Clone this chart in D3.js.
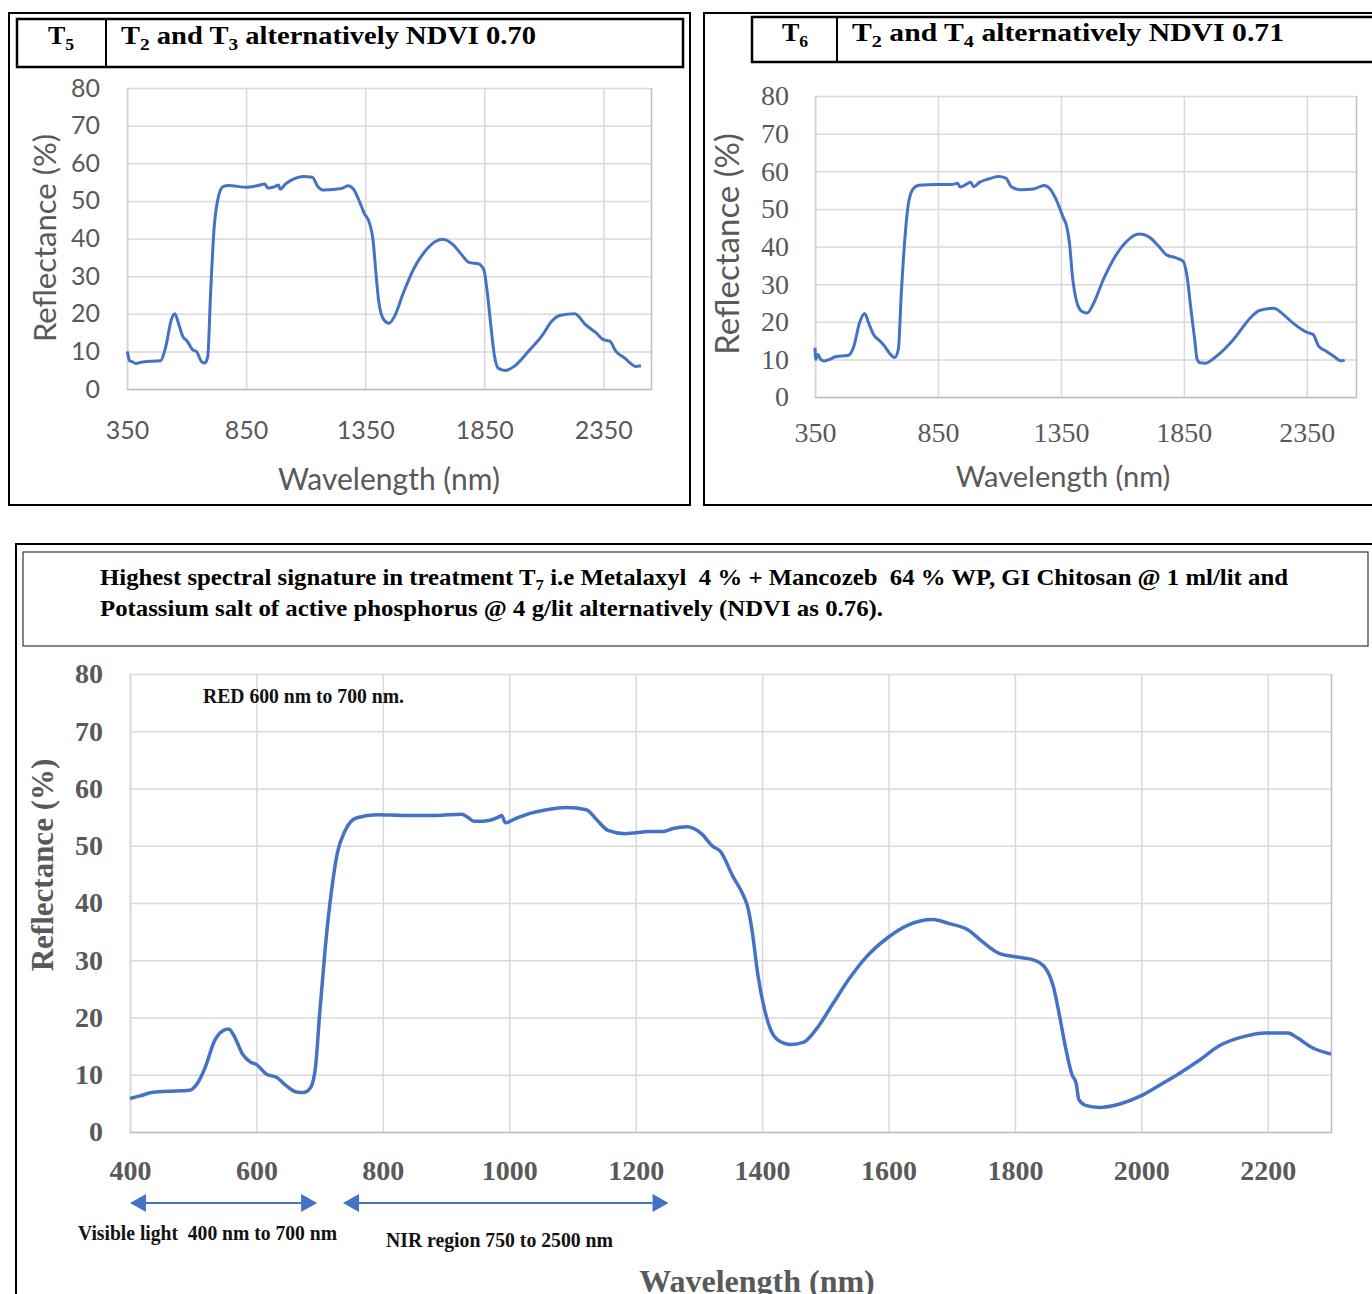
<!DOCTYPE html>
<html>
<head>
<meta charset="utf-8">
<script src="https://cdn.jsdelivr.net/npm/d3@7"></script>
<style>
  body { margin: 0; background: #fff; }
  svg { display: block; }
  text { white-space: pre; }
</style>
</head>
<body>
<svg id="chart" width="1372" height="1294"></svg>
<script>
// Reflectance spectra (wavelength nm, reflectance %)
const t5Wavelength = [350,353,360,371,386,416,491,513,536,551,566,584,603,626,641,663,678,689,701,716,731,753,776,851,896,929,941,971,986,993,1016,1053,1091,1128,1151,1173,1226,1256,1278,1301,1323,1346,1368,1383,1394,1406,1428,1450,1473,1510,1555,1600,1645,1675,1720,1750,1788,1825,1848,1863,1878,1893,1908,1938,1975,2035,2095,2133,2170,2230,2275,2320,2350,2377,2403,2440,2470,2485,2508];
const t5Reflectance = [10,9.5,7.5,7.3,6.8,7.2,7.5,11.3,18.4,20,17.5,14,12.7,10.4,10,7.3,6.9,8.7,25.5,43,50.3,53.8,54.1,53.6,54,54.5,53.4,53.8,54.2,53.1,54.5,55.9,56.5,56.3,53.8,52.9,53.1,53.4,54,53.1,50.3,46.7,44.1,39.6,31.7,23.7,18.4,17.5,19.3,25.5,32.1,36.5,39.2,39.8,38.3,36.1,33.6,33.3,31.7,25.5,16.6,8.7,5.6,4.9,6,10,14.4,18,19.6,20,17.1,14.9,13.1,12.7,10,8.2,6.5,6,6.2];

const t6Wavelength = [350,353,362,373,388,410,433,486,508,531,552,568,588,614,633,651,674,689,701,714,730,749,772,847,907,930,940,967,983,995,1020,1058,1095,1126,1148,1186,1239,1281,1306,1329,1359,1374,1385,1397,1412,1434,1457,1480,1525,1570,1615,1668,1705,1743,1781,1818,1848,1863,1879,1894,1904,1916,1939,1976,2052,2120,2157,2217,2248,2293,2353,2376,2398,2428,2458,2489,2504];
const t6Reflectance = [13.1,10,11.3,10,9.6,10,10.7,11.1,13.5,19.7,22.2,19.7,16.6,14.9,13.5,11.8,10.5,12.7,27.6,40.8,51.4,55.3,56.3,56.5,56.5,56.8,55.8,56.6,57.1,55.9,57.1,58,58.6,58.2,55.9,55.1,55.3,56.2,55.3,52.7,47.8,45.2,40.8,32,25.9,22.8,22.3,24.5,31.6,37.3,41.2,43.3,42.7,40.4,37.7,37,36,32,23.2,15.3,10,9.1,9,10.5,15.3,21,23,23.6,22.3,19.7,17.1,16.6,13.5,12.2,10.9,9.6,9.8];

const t7Wavelength = [400,416,434,459,494,506,519,534,547,556,566,578,591,600,616,631,647,663,675,686,694,700,709,719,728,741,759,791,834,884,925,934,944,959,981,988,994,1009,1034,1059,1091,1122,1138,1156,1184,1222,1244,1259,1281,1303,1322,1334,1354,1370,1377,1384,1393,1403,1413,1426,1446,1466,1486,1512,1538,1565,1597,1630,1670,1696,1726,1749,1775,1801,1828,1847,1861,1870,1880,1890,1897,1901,1913,1933,1966,1999,2032,2058,2091,2124,2163,2196,2232,2246,2269,2300];
const t7Reflectance = [5.85,6.3,6.9,7.1,7.3,8.4,11.3,16,17.7,18,16.5,13.6,12.2,11.8,10.1,9.6,8.1,7,6.9,7.8,11.9,20.6,32.3,42.3,48.7,52.8,54.9,55.4,55.3,55.3,55.5,55,54.3,54.3,54.9,55.3,54,54.7,55.7,56.3,56.7,56.3,54.6,52.7,52.1,52.5,52.5,53,53.3,52.2,49.9,49,44.6,41.4,39.4,35.3,27.7,21.8,18,16,15.3,15.7,18,22.4,26.8,30.6,33.8,36.1,37.1,36.4,35.3,33.2,31.2,30.6,30.1,28.8,25.3,20.6,14.8,10.1,8.4,5.7,4.6,4.3,4.9,6.3,8.4,10.1,12.5,15.1,16.7,17.3,17.3,16.5,14.8,13.6];

// Axis ticks
const yTicks = [0, 10, 20, 30, 40, 50, 60, 70, 80];
const topXTicks = [350, 850, 1350, 1850, 2350];
const bottomXTicks = [400, 600, 800, 1000, 1200, 1400, 1600, 1800, 2000, 2200];

// Region arrows under the big chart
const visibleRange = [400, 696];
const nirRange = [737, 1252];

const svg = d3.select('#chart');
const blue = '#4472C4';
const grey = '#595959';

// ---- boxes and headers ----
function rect(x, y, w, h, sw, color) {
  svg.append('rect').attr('x', x).attr('y', y).attr('width', w).attr('height', h)
    .attr('fill', 'none').attr('stroke', color || '#000').attr('stroke-width', sw);
}
rect(9, 13, 681, 492, 2);
rect(17, 19, 666, 48, 2.5);
svg.append('line').attr('x1', 106).attr('x2', 106).attr('y1', 19).attr('y2', 67).attr('stroke', '#000').attr('stroke-width', 2);

rect(704, 13, 700, 492, 2);
rect(752, 17, 660, 45, 2.5);
svg.append('line').attr('x1', 837).attr('x2', 837).attr('y1', 17).attr('y2', 62).attr('stroke', '#000').attr('stroke-width', 2);

rect(16, 544, 1400, 800, 2);
rect(23, 552, 1345, 94, 1.2, '#333');

// parts: plain strings, or {s: '2'} for a subscript
function header(x, y, parts, anchor, size) {
  const t = svg.append('text').attr('x', x).attr('y', y)
    .attr('font-family', 'Liberation Serif, serif').attr('font-weight', 'bold')
    .attr('font-size', size).attr('text-anchor', anchor || 'start').attr('fill', '#000');
  let shifted = false;
  parts.forEach(p => {
    if (typeof p === 'string') {
      t.append('tspan').attr('dy', shifted ? -size * 0.22 : null).text(p);
      shifted = false;
    } else {
      t.append('tspan').attr('font-size', size * 0.68).attr('dy', size * 0.22).text(p.s);
      shifted = true;
    }
  });
  return t;
}
header(61, 44, ['T', {s: '5'}], 'middle', 26);
header(121, 44, ['T', {s: '2'}, ' and T', {s: '3'}, ' alternatively NDVI 0.70'], 'start', 26)
  .attr('textLength', 415).attr('lengthAdjust', 'spacingAndGlyphs');
header(795, 41, ['T', {s: '6'}], 'middle', 26);
header(852, 41, ['T', {s: '2'}, ' and T', {s: '4'}, ' alternatively NDVI 0.71'], 'start', 26)
  .attr('textLength', 432).attr('lengthAdjust', 'spacingAndGlyphs');

header(100, 585, ['Highest spectral signature in treatment T', {s: '7'}, ' i.e Metalaxyl  4 % + Mancozeb  64 % WP, GI Chitosan @ 1 ml/lit and'], 'start', 23)
  .attr('textLength', 1188).attr('lengthAdjust', 'spacingAndGlyphs');
header(100, 616, ['Potassium salt of active phosphorus @ 4 g/lit alternatively (NDVI as 0.76).'], 'start', 23)
  .attr('textLength', 783).attr('lengthAdjust', 'spacingAndGlyphs');

// ---- chart panels ----
function drawPanel(o) {
  const x = d3.scaleLinear().domain(o.xDomain).range([o.left, o.right]);
  const y = d3.scaleLinear().domain([0, 80]).range([o.bottom, o.top]);
  const g = svg.append('g');

  const ya = g.append('g').attr('transform', `translate(${o.left},0)`)
    .call(d3.axisLeft(y).tickValues(yTicks).tickSize(-(o.right - o.left)));
  ya.select('.domain').remove();
  ya.selectAll('line').attr('stroke', '#d9d9d9').attr('stroke-width', 1.5);
  ya.attr('font-family', o.tickFont).attr('font-size', o.tickSize).attr('font-weight', o.tickWeight);
  ya.selectAll('text').attr('x', o.yLabelRight - o.left).attr('fill', grey);

  const xa = g.append('g').attr('transform', `translate(0,${o.bottom})`)
    .call(d3.axisBottom(x).tickValues(o.xTicks).tickFormat(d3.format('d')).tickSize(-(o.bottom - o.top)));
  xa.select('.domain').attr('stroke', '#bfbfbf').attr('stroke-width', 1.5);
  xa.selectAll('line').attr('stroke', '#d9d9d9').attr('stroke-width', 1.5);
  xa.attr('font-family', o.tickFont).attr('font-size', o.tickSize).attr('font-weight', o.tickWeight);
  xa.selectAll('text').attr('y', o.xLabelY - o.bottom).attr('dy', '0.35em').attr('fill', grey);

  const line = d3.line().x(d => x(d[0])).y(d => y(d[1])).curve(d3.curveMonotoneX);
  g.append('path').datum(d3.zip(o.wl, o.refl))
    .attr('d', line).attr('fill', 'none').attr('stroke', blue)
    .attr('stroke-width', o.lineWidth).attr('stroke-linejoin', 'round');

  g.append('text').attr('x', o.xTitle[0]).attr('y', o.xTitle[1]).attr('text-anchor', 'middle')
    .attr('font-family', o.titleFont).attr('font-size', o.xTitleSize).attr('font-weight', o.titleWeight)
    .attr('fill', grey).text('Wavelength (nm)');
  g.append('text').attr('transform', `translate(${o.yTitle[0]},${o.yTitle[1]}) rotate(-90)`)
    .attr('text-anchor', 'middle').attr('dy', '0.35em')
    .attr('font-family', o.titleFont).attr('font-size', o.yTitleSize).attr('font-weight', o.titleWeight)
    .attr('fill', grey).text('Reflectance (%)');
  return x;
}

drawPanel({
  left: 127, right: 651, top: 88, bottom: 389, xDomain: [350, 2550], xTicks: topXTicks,
  wl: t5Wavelength, refl: t5Reflectance, lineWidth: 3,
  tickFont: 'Lato, sans-serif', tickSize: 25, tickWeight: 'normal', yLabelRight: 100, xLabelY: 430,
  titleFont: 'Lato, sans-serif', xTitleSize: 30, yTitleSize: 31, titleWeight: 'normal',
  xTitle: [389, 490], yTitle: [45, 238]
});

drawPanel({
  left: 815, right: 1356, top: 96, bottom: 397, xDomain: [350, 2550], xTicks: topXTicks,
  wl: t6Wavelength, refl: t6Reflectance, lineWidth: 3,
  tickFont: 'Liberation Serif, serif', tickSize: 28, tickWeight: 'normal', yLabelRight: 789, xLabelY: 432,
  titleFont: 'Lato, sans-serif', xTitleSize: 29, yTitleSize: 33, titleWeight: 'normal',
  xTitle: [1063, 487], yTitle: [727, 244]
});

const xBig = drawPanel({
  left: 130, right: 1331, top: 674, bottom: 1132, xDomain: [400, 2300], xTicks: bottomXTicks,
  wl: t7Wavelength, refl: t7Reflectance, lineWidth: 3.5,
  tickFont: 'Liberation Serif, serif', tickSize: 28, tickWeight: 'bold', yLabelRight: 103, xLabelY: 1170,
  titleFont: 'Liberation Serif, serif', xTitleSize: 32, yTitleSize: 31, titleWeight: 'bold',
  xTitle: [757, 1292], yTitle: [42, 865]
});

// ---- annotations on the big chart ----
function note(x, y, txt, len) {
  svg.append('text').attr('x', x).attr('y', y)
    .attr('font-family', 'Liberation Serif, serif').attr('font-weight', 'bold').attr('font-size', 20)
    .attr('fill', '#111').attr('textLength', len).attr('lengthAdjust', 'spacingAndGlyphs').text(txt);
}
note(203, 703, 'RED 600 nm to 700 nm.', 201);
note(78, 1240, 'Visible light  400 nm to 700 nm', 259);
note(386, 1247, 'NIR region 750 to 2500 nm', 227);

function arrow(range, yPos) {
  const x1 = xBig(range[0]), x2 = xBig(range[1]);
  const head = 16, half = 9;
  svg.append('line').attr('x1', x1 + head).attr('x2', x2 - head).attr('y1', yPos).attr('y2', yPos)
    .attr('stroke', blue).attr('stroke-width', 2);
  svg.append('path').attr('fill', blue)
    .attr('d', `M${x1},${yPos}L${x1 + head},${yPos - half}L${x1 + head},${yPos + half}Z`);
  svg.append('path').attr('fill', blue)
    .attr('d', `M${x2},${yPos}L${x2 - head},${yPos - half}L${x2 - head},${yPos + half}Z`);
}
arrow(visibleRange, 1203);
arrow(nirRange, 1203);
</script>
</body>
</html>
